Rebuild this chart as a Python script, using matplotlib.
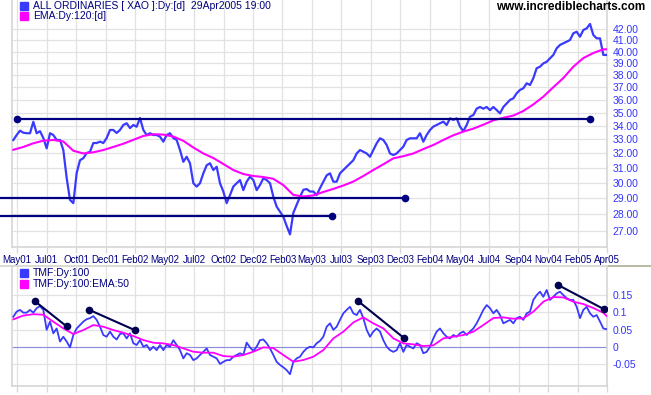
import numpy as np
import matplotlib
matplotlib.use("Agg")
import matplotlib.pyplot as plt
from matplotlib.lines import Line2D

plt.rcParams['font.family'] = ['Liberation Sans', 'DejaVu Sans']

# x axis is a sample index (roughly one sample per week of trading)
date_labels = ['May01', 'Jul01', 'Oct01', 'Dec01', 'Feb02', 'May02', 'Jul02',
               'Oct02', 'Dec02', 'Feb03', 'May03', 'Jul03', 'Sep03', 'Dec03',
               'Feb04', 'May04', 'Jul04', 'Sep04', 'Nov04', 'Feb05', 'Apr05']
date_ticks = 1.1 + 8.85 * np.arange(len(date_labels))

price = [32.96, 33.32, 33.64, 33.49, 33.45, 33.45, 34.3, 33.45, 33.6, 33.1,
         32.36, 33.45, 33.32, 32.96, 32.96, 32.24, 30.33, 28.9, 28.7, 30.66,
         31.53, 31.67, 32.03, 32.12, 32.74, 32.74, 32.84, 32.74, 33.1, 33.69,
         33.69, 33.47, 33.69, 34.06, 34.19, 33.83, 34.06, 33.93, 34.59, 33.69,
         33.32, 33.45, 33.32, 33.32, 33.2, 32.84, 33.32, 33.45, 33.1, 32.96,
         32.24, 31.42, 31.77, 31.32, 29.98, 29.76, 29.98, 30.64, 31.18, 31.32,
         30.86, 31.08, 29.98, 29.44, 28.7, 29.21, 29.76, 29.98, 30.19, 29.53,
         30.08, 30.41, 30.19, 29.53, 29.86, 30.3, 30.19, 29.98, 29.11, 28.48,
         28.17, 27.86, 27.3, 26.8, 28.1, 28.6, 29.1, 29.55, 29.6, 29.44,
         29.44, 29.21, 29.66, 30.08, 30.5, 30.64, 30.08, 30.08, 30.64, 30.86,
         31.08, 31.3, 31.53, 32.0, 32.24, 32.12, 32.0, 31.77, 32.24, 32.72,
         33.08, 32.96, 32.6, 32.0, 31.89, 32.0, 32.24, 32.48, 32.96, 33.08,
         33.08, 33.08, 33.45, 32.84, 33.32, 33.69, 33.94, 34.06, 34.19, 34.31,
         34.06, 34.56, 34.44, 34.56, 33.94, 33.6, 34.06, 34.69, 34.81, 35.3,
         35.43, 35.3, 35.43, 35.19, 35.43, 35.19, 34.94, 35.43, 35.7, 35.98,
         36.11, 36.51, 36.78, 36.91, 37.32, 37.18, 37.74, 38.57, 38.7, 38.98,
         39.12, 39.42, 39.71, 40.29, 40.59, 40.74, 40.88, 41.03, 41.64, 41.78,
         41.33, 41.94, 42.09, 42.5, 41.48, 41.18, 41.18, 39.71, 39.71]

# EMA read every third sample
ema_x = list(range(0, 178, 3)) + [178]
price_ema = [32.26, 32.46, 32.72, 32.91, 32.96, 32.85, 32.19, 32.0, 32.08, 32.24,
             32.46, 32.69, 32.97, 33.25, 33.38, 33.35, 33.21, 32.9, 32.42, 32.0,
             31.68, 31.27, 30.86, 30.59, 30.46, 30.39, 30.27, 29.86, 29.22, 29.12,
             29.19, 29.41, 29.61, 29.83, 30.09, 30.46, 30.86, 31.25, 31.66, 31.81,
             32.0, 32.31, 32.6, 32.96, 33.3, 33.57, 33.79, 34.08, 34.41, 34.6,
             34.77, 35.12, 35.63, 36.24, 37.0, 37.75, 38.7, 39.44, 39.88, 40.2,
             40.2]

tmf = [0.087, 0.102, 0.107, 0.099, 0.099, 0.107, 0.099, 0.112, 0.118, 0.107,
       0.049, 0.073, 0.039, 0.053, 0.015, 0.029, 0.015, -0.002, 0.034, 0.053,
       0.063, 0.073, 0.080, 0.083, 0.089, 0.078, 0.058, 0.034, 0.029, 0.044,
       0.029, 0.021, 0.037, 0.039, 0.024, 0.039, 0.010, 0.005, 0.019, 0.0,
       0.005, -0.010, 0.0, -0.010, 0.005, -0.010, 0.005, 0.0, 0.019, 0.005,
       -0.010, -0.034, -0.019, -0.024, -0.039, -0.034, -0.024, -0.015, -0.005, -0.024,
       -0.029, -0.034, -0.05, -0.044, -0.039, -0.039, -0.029, -0.024, -0.019, -0.024,
       0.012, -0.002, -0.012, 0.0, 0.019, 0.021, 0.010, -0.005, -0.024, -0.044,
       -0.053, -0.060, -0.068, -0.08, -0.044, -0.034, -0.029, -0.015, -0.005, 0.0,
       -0.002, 0.010, 0.017, 0.029, 0.058, 0.068, 0.049, 0.058, 0.078, 0.097,
       0.107, 0.116, 0.097, 0.092, 0.107, 0.083, 0.049, 0.029, 0.044, 0.053,
       0.044, 0.019, 0.0, -0.010, -0.015, -0.010, 0.010, -0.015, 0.005, 0.0,
       -0.005, 0.010, 0.005, -0.019, -0.015, 0.0, 0.024, 0.044, 0.053, 0.039,
       0.029, 0.024, 0.034, 0.029, 0.039, 0.044, 0.034, 0.044, 0.053, 0.068,
       0.087, 0.107, 0.121, 0.112, 0.097, 0.107, 0.092, 0.068, 0.073, 0.078,
       0.068, 0.083, 0.087, 0.078, 0.097, 0.102, 0.136, 0.150, 0.160, 0.145,
       0.165, 0.136, 0.145, 0.155, 0.160, 0.150, 0.141, 0.136, 0.136, 0.116,
       0.083, 0.107, 0.116, 0.097, 0.087, 0.092, 0.073, 0.053, 0.051]

tmf_ema = [0.0795, 0.0906, 0.0945, 0.093, 0.0727, 0.0533, 0.0368, 0.0484, 0.063, 0.0581,
           0.0484, 0.0407, 0.031, 0.0194, 0.0116, 0.0097, 0.0048, -0.0048, -0.0145, -0.0174,
           -0.0174, -0.0271, -0.0291, -0.0242, -0.0145, -0.0019, -0.0039, -0.0242, -0.0436, -0.0388,
           -0.0291, -0.0097, 0.0242, 0.0436, 0.0707, 0.0853, 0.0678, 0.0533, 0.0242, 0.0097,
           0.0068, 0.0019, 0.0039, 0.0242, 0.0291, 0.0339, 0.0436, 0.063, 0.0833, 0.0853,
           0.0814, 0.0824, 0.1017, 0.1308, 0.1444, 0.1434, 0.1308, 0.124, 0.1124, 0.0988,
           0.0891]

# support / resistance lines drawn on the price chart
level_value = [34.5, 29.0, 27.9]
level_start = [1.1, -4.0, -4.0]
level_end = [173.0, 117.5, 95.6]
level_dot_start = [True, False, False]

# divergence lines on the TMF panel
tmf_line_x = [(6.5, 16.0), (22.8, 36.5), (103.5, 117.1), (163.5, 177.2)]
tmf_line_y = [(0.132, 0.059), (0.107, 0.048), (0.132, 0.026), (0.179, 0.109)]

price_ticks = list(range(27, 43))
tmf_ticks = [-0.05, 0, 0.05, 0.1, 0.15]
tmf_tick_labels = ['-0.05', '0', '0.05', '0.1', '0.15']

W, H = 651, 395
BLUE = '#3a3aff'
MAGENTA = '#ff00ff'
NAVY = '#000080'
GRID = '#e2e2e2'
LABEL = '#3333ff'

fig = plt.figure(figsize=(W / 100, H / 100), dpi=100)
fig.patch.set_facecolor('white')

left = 12 / W
width = (607 - 12) / W
ax1 = fig.add_axes([left, 1 - 247 / H, width, 247 / H])
ax2 = fig.add_axes([left, 1 - 386 / H, width, (386 - 267) / H])

xlim = (-0.4, 178.1)

# --- price panel
x = np.arange(len(price))
ax1.plot(x, price, color=BLUE, lw=1.6, zorder=3)
ax1.plot(ema_x, price_ema, color=MAGENTA, lw=1.5, zorder=4)
for v, a, b, d in zip(level_value, level_start, level_end, level_dot_start):
    ax1.plot([a, b], [v, v], color=NAVY, lw=1.6, zorder=5, clip_on=False)
    ax1.plot([b], [v], 'o', color=NAVY, ms=4.5, zorder=6, clip_on=False)
    if d:
        ax1.plot([a], [v], 'o', color=NAVY, ms=4.5, zorder=6, clip_on=False)

ax1.set_yscale('log')
ax1.set_ylim(26.07, 44.79)
ax1.set_yticks(price_ticks)
ax1.set_yticklabels(['%.2f' % t for t in price_ticks])
ax1.minorticks_off()
ax1.set_xlim(*xlim)
ax1.set_xticks(date_ticks)
ax1.set_xticklabels(date_labels)

# --- TMF panel
ax2.plot(x, tmf, color=BLUE, lw=1.3, zorder=3)
ax2.plot(ema_x, tmf_ema, color=MAGENTA, lw=1.3, zorder=4)
ax2.axhline(0, color='#8c8cdc', lw=0.8, zorder=2)
for xs, ys in zip(tmf_line_x, tmf_line_y):
    ax2.plot(xs, ys, color='#000050', lw=1.5, zorder=5)
    ax2.plot(xs, ys, 'o', color='#000050', ms=4.5, zorder=6)
ax2.set_ylim(-0.1142, 0.2317)
ax2.set_yticks(tmf_ticks)
ax2.set_yticklabels(tmf_tick_labels)
ax2.set_xlim(*xlim)
ax2.set_xticks(date_ticks)
ax2.set_xticklabels([])

for ax in (ax1, ax2):
    ax.yaxis.tick_right()
    ax.grid(True, color=GRID, lw=0.9, zorder=0)
    ax.set_axisbelow(True)
    ax.spines['top'].set_visible(False)
    for s in ('left', 'right', 'bottom'):
        ax.spines[s].set_color('#d6d6d6')
        ax.spines[s].set_linewidth(1.2)
    ax.tick_params(axis='y', length=0, pad=4, labelsize=7.5, labelcolor=LABEL)
    ax.tick_params(axis='x', length=4, width=0.9, color='#d6d6d6', pad=1.5,
                   labelsize=7, labelcolor=NAVY)

# legends and watermark
def legend_item(xp, yp, color, text):
    fig.add_artist(Line2D([xp / W], [1 - yp / H], marker='s', ms=5.5,
                          color=color, mec=color, lw=0))
    fig.text((xp + 9) / W, 1 - yp / H, text, fontsize=7.5, color=NAVY,
             va='center', ha='left')

legend_item(24, 6, BLUE, 'ALL ORDINARIES [ XAO ]:Dy:[d]  29Apr2005 19:00')
legend_item(24, 16, MAGENTA, 'EMA:Dy:120:[d]')
legend_item(24, 273, BLUE, 'TMF:Dy:100')
legend_item(24, 284, MAGENTA, 'TMF:Dy:100:EMA:50')

fig.text(645 / W, 1 - 7 / H, 'www.incrediblecharts.com', fontsize=8.5,
         fontweight='bold', color='black', ha='right', va='center')

# panel separator
fig.add_artist(Line2D([0, 1], [1 - 265.5 / H] * 2, color='#d4d4cc', lw=1.2))
fig.add_artist(Line2D([609 / W, 1], [1 - 265.5 / H] * 2, color='#b4b49c', lw=1.2))

fig.savefig('out.png', dpi=100)
